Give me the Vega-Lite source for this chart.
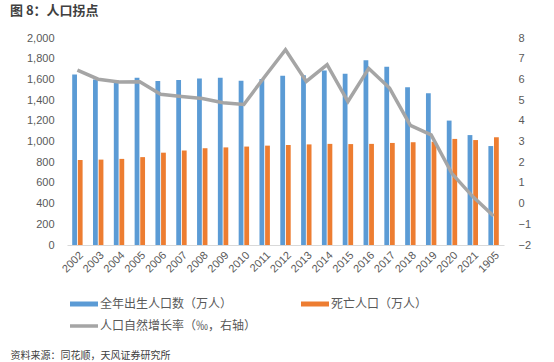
{
  "$schema": "https://vega.github.io/schema/vega-lite/v6.json",
  "width": 437,
  "height": 207,
  "autosize": {"type": "none"},
  "padding": {"left": 67, "top": 38, "right": 50, "bottom": 117},
  "background": "white",
  "title": {
    "text": "图 8：人口拐点",
    "anchor": "start",
    "frame": "group",
    "dx": -57,
    "dy": -4,
    "offset": 0,
    "baseline": "alphabetic",
    "font": "Noto Sans CJK SC",
    "fontSize": 13,
    "fontWeight": "bold",
    "color": "#404040"
  },
  "data": {
    "values": [
      {"year": "2002", "births": 1647, "deaths": 821, "rate": 6.45},
      {"year": "2003", "births": 1599, "deaths": 825, "rate": 6.01},
      {"year": "2004", "births": 1593, "deaths": 832, "rate": 5.87},
      {"year": "2005", "births": 1617, "deaths": 849, "rate": 5.89},
      {"year": "2006", "births": 1585, "deaths": 892, "rate": 5.28},
      {"year": "2007", "births": 1594, "deaths": 913, "rate": 5.17},
      {"year": "2008", "births": 1608, "deaths": 935, "rate": 5.08},
      {"year": "2009", "births": 1615, "deaths": 943, "rate": 4.87},
      {"year": "2010", "births": 1588, "deaths": 951, "rate": 4.79},
      {"year": "2011", "births": 1604, "deaths": 960, "rate": 6.13},
      {"year": "2012", "births": 1635, "deaths": 966, "rate": 7.43},
      {"year": "2013", "births": 1640, "deaths": 972, "rate": 5.90},
      {"year": "2014", "births": 1687, "deaths": 977, "rate": 6.71},
      {"year": "2015", "births": 1655, "deaths": 975, "rate": 4.93},
      {"year": "2016", "births": 1786, "deaths": 977, "rate": 6.53},
      {"year": "2017", "births": 1723, "deaths": 986, "rate": 5.58},
      {"year": "2018", "births": 1523, "deaths": 993, "rate": 3.78},
      {"year": "2019", "births": 1465, "deaths": 998, "rate": 3.32},
      {"year": "2020", "births": 1202, "deaths": 1025, "rate": 1.45},
      {"year": "2021", "births": 1062, "deaths": 1014, "rate": 0.34},
      {"year": "1905", "births": 956, "deaths": 1041, "rate": -0.60}
    ]
  },
  "config": {
    "view": {"stroke": null},
    "axis": {
      "grid": false,
      "ticks": false,
      "domain": false,
      "labelFont": "Liberation Sans",
      "labelFontSize": 11,
      "labelColor": "#595959"
    }
  },
  "layer": [
    {
      "transform": [{"fold": ["births", "deaths"], "as": ["series", "value"]}],
      "mark": {"type": "bar"},
      "encoding": {
        "x": {
          "field": "year",
          "type": "nominal",
          "sort": null,
          "scale": {"paddingInner": 0.5, "paddingOuter": 0.25},
          "axis": {
            "labelAngle": -45,
            "labelPadding": 4,
            "domain": true,
            "domainColor": "#D9D9D9",
            "domainWidth": 1,
            "title": "资料来源：同花顺，天风证券研究所",
            "titleX": -57,
            "titleY": 113,
            "titleAlign": "left",
            "titleAnchor": null,
            "titleBaseline": "alphabetic",
            "titleFont": "Noto Sans CJK SC",
            "titleFontSize": 10,
            "titleFontWeight": "normal",
            "titleColor": "#404040"
          }
        },
        "xOffset": {"field": "series", "type": "nominal", "sort": null, "scale": {"paddingInner": 0.15}},
        "y": {
          "field": "value",
          "type": "quantitative",
          "scale": {"domain": [0, 2000]},
          "axis": {
            "orient": "left",
            "title": null,
            "values": [0, 200, 400, 600, 800, 1000, 1200, 1400, 1600, 1800, 2000],
            "format": ",d",
            "labelPadding": 13
          }
        },
        "color": {
          "field": "series",
          "type": "nominal",
          "scale": {"domain": ["births", "deaths", "rate"], "range": ["#5B9BD5", "#ED7D31", "#A5A5A5"]},
          "legend": {
            "orient": "none",
            "legendX": 11,
            "legendY": 260,
            "direction": "horizontal",
            "columns": 2,
            "columnPadding": 34,
            "rowPadding": 5,
            "title": null,
            "symbolType": "stroke",
            "symbolSize": 784,
            "symbolStrokeWidth": 5,
            "labelOffset": 10,
            "labelLimit": 300,
            "labelFont": "Noto Sans CJK SC",
            "labelFontSize": 12,
            "labelColor": "#595959",
            "labelExpr": "datum.label == 'births' ? '全年出生人口数（万人）' : datum.label == 'deaths' ? '死亡人口（万人）' : '人口自然增长率（‰，右轴）'",
            "encode": {
              "symbols": {
                "update": {
                  "stroke": {"scale": "color", "field": "value"},
                  "strokeWidth": {"signal": "datum.value == 'rate' ? 3.5 : 5"}
                }
              }
            }
          }
        }
      }
    },
    {
      "mark": {"type": "line", "strokeWidth": 3.5, "color": "#A5A5A5"},
      "encoding": {
        "x": {"field": "year", "type": "nominal", "sort": null},
        "y": {
          "field": "rate",
          "type": "quantitative",
          "scale": {"domain": [-2, 8]},
          "axis": {
            "orient": "right",
            "title": null,
            "values": [-2, -1, 0, 1, 2, 3, 4, 5, 6, 7, 8],
            "labelPadding": 14
          }
        },
        "color": {"datum": "rate"}
      }
    }
  ],
  "resolve": {"scale": {"y": "independent"}}
}
